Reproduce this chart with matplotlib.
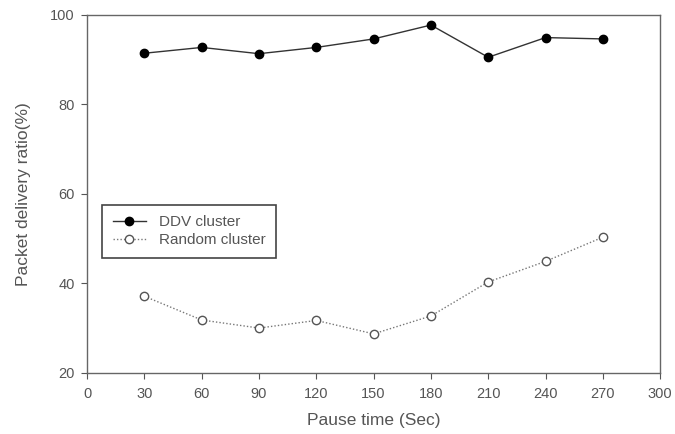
import matplotlib
matplotlib.use("Agg")
import matplotlib.pyplot as plt

pause_time = [30, 60, 90, 120, 150, 180, 210, 240, 270]
ddv_cluster = [91.4, 92.7, 91.3, 92.7, 94.6, 97.7, 90.5, 94.9, 94.6]
random_cluster = [37.1, 31.8, 30.0, 31.7, 28.7, 32.7, 40.3, 44.9, 50.3]
x_ticks = [0, 30, 60, 90, 120, 150, 180, 210, 240, 270, 300]
y_ticks = [20, 40, 60, 80, 100]

plt.rcParams['font.family'] = ['Liberation Sans', 'DejaVu Sans']

fig = plt.figure(figsize=(6.75, 4.34), dpi=100)
ax = fig.add_axes([0.129, 0.141, 0.849, 0.825])

ax.plot(pause_time, ddv_cluster, color='#333333', lw=1.0, marker='o',
        markersize=6, markerfacecolor='black', markeredgecolor='black',
        label='DDV cluster')
ax.plot(pause_time, random_cluster, color='#777777', lw=1.0, ls=(0, (1, 1.5)),
        marker='o', markersize=6, markerfacecolor='white',
        markeredgecolor='#555555', label='Random cluster')

ax.set_xlim(0, 300)
ax.set_ylim(20, 100)
ax.set_xticks(x_ticks)
ax.set_yticks(y_ticks)
ax.tick_params(direction='out', length=4, color='#555555', labelcolor='#555555',
               labelsize=10.5)
ax.tick_params(axis='x', pad=6)
ax.tick_params(axis='y', pad=5)
for s in ax.spines.values():
    s.set_color('#666666')
    s.set_linewidth(1.0)

ax.set_xlabel('Pause time (Sec)', color='#555555', fontsize=12.5, labelpad=9)
ax.set_ylabel('Packet delivery ratio(%)', color='#555555', fontsize=12.5, labelpad=14)

leg = ax.legend(loc='upper left', bbox_to_anchor=(0.026, 0.47), fancybox=False,
                edgecolor='#444444', fontsize=11, handlelength=2.2,
                handletextpad=0.8, borderpad=0.7, labelspacing=0.25,
                borderaxespad=0, framealpha=1)
for t in leg.get_texts():
    t.set_color('#555555')
leg.get_frame().set_linewidth(1.2)

fig.savefig('out.png', dpi=100)
